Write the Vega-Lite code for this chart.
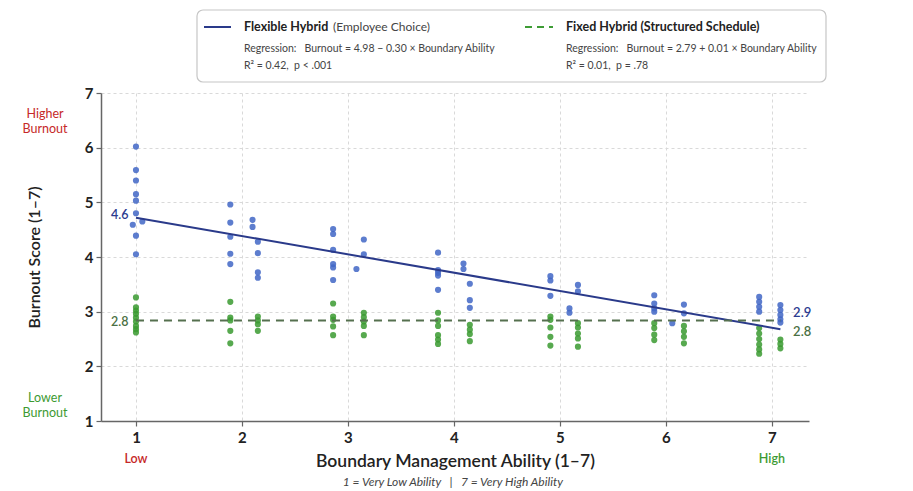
{
  "$schema": "https://vega.github.io/schema/vega-lite/v6.json",
  "background": "white",
  "padding": {"left": 22, "top": 9, "right": 5, "bottom": 3},
  "config": {
    "view": {"stroke": null},
    "font": "Lato",
    "axis": {
      "labelFont": "Lato", "titleFont": "Lato",
      "labelFontSize": 15, "labelFontWeight": 700, "labelColor": "#222222",
      "domainColor": "#666666", "domainWidth": 1.5,
      "tickColor": "#666666", "tickSize": 5, "tickWidth": 1.2,
      "gridColor": "#d9d9d9", "gridDash": [3, 3], "gridWidth": 1,
      "titleColor": "#222222", "titleFontWeight": 600
    }
  },
  "spacing": 11,
  "bounds": "flush",
  "vconcat": [
    {
      "width": 726,
      "height": 72,
      "data": {"values": [{"panel": "legend"}]},
      "layer": [
        {
          "mark": {"type": "rect", "fill": "white", "stroke": "#c6c6c6", "strokeWidth": 1.2, "cornerRadius": 6},
          "encoding": {
            "x": {"datum": 96, "type": "quantitative", "scale": {"domain": [0, 726], "nice": false, "zero": false}, "axis": null},
            "x2": {"datum": 725},
            "y": {"datum": 0, "type": "quantitative", "scale": {"domain": [0, 72], "nice": false, "reverse": true}, "axis": null},
            "y2": {"datum": 72}
          }
        },
        {
          "mark": {"type": "rule", "stroke": "#2a3a8a", "strokeWidth": 2},
          "encoding": {"x": {"datum": 103, "type": "quantitative"}, "x2": {"datum": 130}, "y": {"datum": 17, "type": "quantitative"}}
        },
        {
          "mark": {"type": "rule", "stroke": "#3e9c35", "strokeWidth": 2, "strokeDash": [7, 5]},
          "encoding": {"x": {"datum": 424, "type": "quantitative"}, "x2": {"datum": 452}, "y": {"datum": 17, "type": "quantitative"}}
        },
        {
          "mark": {"type": "text", "align": "left", "baseline": "middle", "fontSize": 12.5, "fontWeight": 700, "color": "#222222"},
          "encoding": {"x": {"datum": 143, "type": "quantitative"}, "y": {"datum": 17, "type": "quantitative"}, "text": {"value": "Flexible Hybrid"}}
        },
        {
          "mark": {"type": "text", "align": "left", "baseline": "middle", "fontSize": 12, "color": "#444444"},
          "encoding": {"x": {"datum": 232, "type": "quantitative"}, "y": {"datum": 17, "type": "quantitative"}, "text": {"value": "(Employee Choice)"}}
        },
        {
          "mark": {"type": "text", "align": "left", "baseline": "middle", "fontSize": 10.5, "color": "#444444"},
          "encoding": {"x": {"datum": 143, "type": "quantitative"}, "y": {"datum": 39, "type": "quantitative"}, "text": {"value": "Regression:\u00a0\u00a0 Burnout = 4.98 − 0.30 × Boundary Ability"}}
        },
        {
          "mark": {"type": "text", "align": "left", "baseline": "middle", "fontSize": 10.5, "color": "#444444"},
          "encoding": {"x": {"datum": 143, "type": "quantitative"}, "y": {"datum": 56, "type": "quantitative"}, "text": {"value": "R² = 0.42,\u00a0 p < .001"}}
        },
        {
          "mark": {"type": "text", "align": "left", "baseline": "middle", "fontSize": 12.5, "fontWeight": 700, "color": "#222222"},
          "encoding": {"x": {"datum": 465, "type": "quantitative"}, "y": {"datum": 17, "type": "quantitative"}, "text": {"value": "Fixed Hybrid (Structured Schedule)"}}
        },
        {
          "mark": {"type": "text", "align": "left", "baseline": "middle", "fontSize": 10.5, "color": "#444444"},
          "encoding": {"x": {"datum": 465, "type": "quantitative"}, "y": {"datum": 39, "type": "quantitative"}, "text": {"value": "Regression:\u00a0\u00a0 Burnout = 2.79 + 0.01 × Boundary Ability"}}
        },
        {
          "mark": {"type": "text", "align": "left", "baseline": "middle", "fontSize": 10.5, "color": "#444444"},
          "encoding": {"x": {"datum": 465, "type": "quantitative"}, "y": {"datum": 56, "type": "quantitative"}, "text": {"value": "R² = 0.01,\u00a0 p = .78"}}
        }
      ]
    },
    {
      "width": 708,
      "height": 328,
      "layer": [
        {
          "data": {"values": [
            {"group": "Flexible Hybrid", "ability": 1.00, "burnout": 6.02},
            {"group": "Flexible Hybrid", "ability": 1.00, "burnout": 5.59},
            {"group": "Flexible Hybrid", "ability": 1.00, "burnout": 5.40},
            {"group": "Flexible Hybrid", "ability": 1.00, "burnout": 5.15},
            {"group": "Flexible Hybrid", "ability": 1.00, "burnout": 5.03},
            {"group": "Flexible Hybrid", "ability": 1.00, "burnout": 4.80},
            {"group": "Flexible Hybrid", "ability": 1.06, "burnout": 4.65},
            {"group": "Flexible Hybrid", "ability": 0.97, "burnout": 4.59},
            {"group": "Flexible Hybrid", "ability": 1.00, "burnout": 4.39},
            {"group": "Flexible Hybrid", "ability": 1.00, "burnout": 4.05},
            {"group": "Flexible Hybrid", "ability": 1.89, "burnout": 4.96},
            {"group": "Flexible Hybrid", "ability": 1.89, "burnout": 4.63},
            {"group": "Flexible Hybrid", "ability": 1.89, "burnout": 4.37},
            {"group": "Flexible Hybrid", "ability": 1.89, "burnout": 4.06},
            {"group": "Flexible Hybrid", "ability": 1.89, "burnout": 3.87},
            {"group": "Flexible Hybrid", "ability": 2.10, "burnout": 4.68},
            {"group": "Flexible Hybrid", "ability": 2.10, "burnout": 4.55},
            {"group": "Flexible Hybrid", "ability": 2.15, "burnout": 4.28},
            {"group": "Flexible Hybrid", "ability": 2.15, "burnout": 4.07},
            {"group": "Flexible Hybrid", "ability": 2.15, "burnout": 3.72},
            {"group": "Flexible Hybrid", "ability": 2.15, "burnout": 3.62},
            {"group": "Flexible Hybrid", "ability": 2.86, "burnout": 4.51},
            {"group": "Flexible Hybrid", "ability": 2.86, "burnout": 4.42},
            {"group": "Flexible Hybrid", "ability": 2.86, "burnout": 4.13},
            {"group": "Flexible Hybrid", "ability": 2.86, "burnout": 3.87},
            {"group": "Flexible Hybrid", "ability": 2.86, "burnout": 3.81},
            {"group": "Flexible Hybrid", "ability": 2.86, "burnout": 3.58},
            {"group": "Flexible Hybrid", "ability": 3.15, "burnout": 4.32},
            {"group": "Flexible Hybrid", "ability": 3.15, "burnout": 4.05},
            {"group": "Flexible Hybrid", "ability": 3.08, "burnout": 3.78},
            {"group": "Flexible Hybrid", "ability": 3.85, "burnout": 4.08},
            {"group": "Flexible Hybrid", "ability": 3.85, "burnout": 3.76},
            {"group": "Flexible Hybrid", "ability": 3.85, "burnout": 3.71},
            {"group": "Flexible Hybrid", "ability": 3.85, "burnout": 3.66},
            {"group": "Flexible Hybrid", "ability": 3.85, "burnout": 3.40},
            {"group": "Flexible Hybrid", "ability": 4.09, "burnout": 3.88},
            {"group": "Flexible Hybrid", "ability": 4.09, "burnout": 3.78},
            {"group": "Flexible Hybrid", "ability": 4.15, "burnout": 3.51},
            {"group": "Flexible Hybrid", "ability": 4.15, "burnout": 3.21},
            {"group": "Flexible Hybrid", "ability": 4.15, "burnout": 3.07},
            {"group": "Flexible Hybrid", "ability": 4.91, "burnout": 3.65},
            {"group": "Flexible Hybrid", "ability": 4.91, "burnout": 3.57},
            {"group": "Flexible Hybrid", "ability": 4.91, "burnout": 3.29},
            {"group": "Flexible Hybrid", "ability": 5.17, "burnout": 3.49},
            {"group": "Flexible Hybrid", "ability": 5.17, "burnout": 3.37},
            {"group": "Flexible Hybrid", "ability": 5.09, "burnout": 3.06},
            {"group": "Flexible Hybrid", "ability": 5.09, "burnout": 2.98},
            {"group": "Flexible Hybrid", "ability": 5.89, "burnout": 3.30},
            {"group": "Flexible Hybrid", "ability": 5.89, "burnout": 3.15},
            {"group": "Flexible Hybrid", "ability": 5.89, "burnout": 3.06},
            {"group": "Flexible Hybrid", "ability": 5.89, "burnout": 3.00},
            {"group": "Flexible Hybrid", "ability": 6.06, "burnout": 2.79},
            {"group": "Flexible Hybrid", "ability": 6.17, "burnout": 3.13},
            {"group": "Flexible Hybrid", "ability": 6.17, "burnout": 2.97},
            {"group": "Flexible Hybrid", "ability": 6.88, "burnout": 3.27},
            {"group": "Flexible Hybrid", "ability": 6.88, "burnout": 3.18},
            {"group": "Flexible Hybrid", "ability": 6.88, "burnout": 3.09},
            {"group": "Flexible Hybrid", "ability": 6.88, "burnout": 3.00},
            {"group": "Flexible Hybrid", "ability": 7.08, "burnout": 3.12},
            {"group": "Flexible Hybrid", "ability": 7.08, "burnout": 3.03},
            {"group": "Flexible Hybrid", "ability": 7.08, "burnout": 2.94},
            {"group": "Flexible Hybrid", "ability": 7.08, "burnout": 2.86},
            {"group": "Flexible Hybrid", "ability": 7.08, "burnout": 2.80},
            {"group": "Fixed Hybrid", "ability": 1.00, "burnout": 3.26},
            {"group": "Fixed Hybrid", "ability": 1.00, "burnout": 3.08},
            {"group": "Fixed Hybrid", "ability": 1.00, "burnout": 3.02},
            {"group": "Fixed Hybrid", "ability": 1.00, "burnout": 2.96},
            {"group": "Fixed Hybrid", "ability": 1.00, "burnout": 2.89},
            {"group": "Fixed Hybrid", "ability": 1.00, "burnout": 2.82},
            {"group": "Fixed Hybrid", "ability": 1.00, "burnout": 2.74},
            {"group": "Fixed Hybrid", "ability": 1.00, "burnout": 2.68},
            {"group": "Fixed Hybrid", "ability": 1.00, "burnout": 2.62},
            {"group": "Fixed Hybrid", "ability": 1.89, "burnout": 3.18},
            {"group": "Fixed Hybrid", "ability": 1.89, "burnout": 2.89},
            {"group": "Fixed Hybrid", "ability": 1.89, "burnout": 2.84},
            {"group": "Fixed Hybrid", "ability": 1.89, "burnout": 2.65},
            {"group": "Fixed Hybrid", "ability": 1.89, "burnout": 2.42},
            {"group": "Fixed Hybrid", "ability": 2.15, "burnout": 2.91},
            {"group": "Fixed Hybrid", "ability": 2.15, "burnout": 2.84},
            {"group": "Fixed Hybrid", "ability": 2.15, "burnout": 2.77},
            {"group": "Fixed Hybrid", "ability": 2.15, "burnout": 2.65},
            {"group": "Fixed Hybrid", "ability": 2.86, "burnout": 3.15},
            {"group": "Fixed Hybrid", "ability": 2.86, "burnout": 2.91},
            {"group": "Fixed Hybrid", "ability": 2.86, "burnout": 2.85},
            {"group": "Fixed Hybrid", "ability": 2.86, "burnout": 2.73},
            {"group": "Fixed Hybrid", "ability": 2.86, "burnout": 2.57},
            {"group": "Fixed Hybrid", "ability": 3.15, "burnout": 2.98},
            {"group": "Fixed Hybrid", "ability": 3.15, "burnout": 2.90},
            {"group": "Fixed Hybrid", "ability": 3.15, "burnout": 2.82},
            {"group": "Fixed Hybrid", "ability": 3.15, "burnout": 2.74},
            {"group": "Fixed Hybrid", "ability": 3.15, "burnout": 2.57},
            {"group": "Fixed Hybrid", "ability": 3.85, "burnout": 2.98},
            {"group": "Fixed Hybrid", "ability": 3.85, "burnout": 2.84},
            {"group": "Fixed Hybrid", "ability": 3.85, "burnout": 2.74},
            {"group": "Fixed Hybrid", "ability": 3.85, "burnout": 2.57},
            {"group": "Fixed Hybrid", "ability": 3.85, "burnout": 2.49},
            {"group": "Fixed Hybrid", "ability": 3.85, "burnout": 2.41},
            {"group": "Fixed Hybrid", "ability": 4.15, "burnout": 2.76},
            {"group": "Fixed Hybrid", "ability": 4.15, "burnout": 2.67},
            {"group": "Fixed Hybrid", "ability": 4.15, "burnout": 2.59},
            {"group": "Fixed Hybrid", "ability": 4.15, "burnout": 2.46},
            {"group": "Fixed Hybrid", "ability": 4.91, "burnout": 2.91},
            {"group": "Fixed Hybrid", "ability": 4.91, "burnout": 2.85},
            {"group": "Fixed Hybrid", "ability": 4.91, "burnout": 2.71},
            {"group": "Fixed Hybrid", "ability": 4.91, "burnout": 2.54},
            {"group": "Fixed Hybrid", "ability": 4.91, "burnout": 2.38},
            {"group": "Fixed Hybrid", "ability": 5.17, "burnout": 2.79},
            {"group": "Fixed Hybrid", "ability": 5.17, "burnout": 2.71},
            {"group": "Fixed Hybrid", "ability": 5.17, "burnout": 2.60},
            {"group": "Fixed Hybrid", "ability": 5.17, "burnout": 2.51},
            {"group": "Fixed Hybrid", "ability": 5.17, "burnout": 2.36},
            {"group": "Fixed Hybrid", "ability": 5.89, "burnout": 2.79},
            {"group": "Fixed Hybrid", "ability": 5.89, "burnout": 2.70},
            {"group": "Fixed Hybrid", "ability": 5.89, "burnout": 2.58},
            {"group": "Fixed Hybrid", "ability": 5.89, "burnout": 2.48},
            {"group": "Fixed Hybrid", "ability": 6.17, "burnout": 2.74},
            {"group": "Fixed Hybrid", "ability": 6.17, "burnout": 2.64},
            {"group": "Fixed Hybrid", "ability": 6.17, "burnout": 2.54},
            {"group": "Fixed Hybrid", "ability": 6.17, "burnout": 2.42},
            {"group": "Fixed Hybrid", "ability": 6.88, "burnout": 2.70},
            {"group": "Fixed Hybrid", "ability": 6.88, "burnout": 2.60},
            {"group": "Fixed Hybrid", "ability": 6.88, "burnout": 2.50},
            {"group": "Fixed Hybrid", "ability": 6.88, "burnout": 2.40},
            {"group": "Fixed Hybrid", "ability": 6.88, "burnout": 2.31},
            {"group": "Fixed Hybrid", "ability": 6.88, "burnout": 2.23},
            {"group": "Fixed Hybrid", "ability": 7.08, "burnout": 2.49},
            {"group": "Fixed Hybrid", "ability": 7.08, "burnout": 2.41},
            {"group": "Fixed Hybrid", "ability": 7.08, "burnout": 2.33}
          ]},
          "mark": {"type": "circle", "size": 38, "opacity": 0.85},
          "encoding": {
            "x": {
              "field": "ability", "type": "quantitative",
              "scale": {"domain": [0.67, 7.35], "nice": false, "zero": false},
              "axis": {"values": [1, 2, 3, 4, 5, 6, 7], "format": "d", "labelPadding": 4, "title": "Boundary Management Ability (1–7)", "titleFontSize": 17.5, "titlePadding": 7}
            },
            "y": {
              "field": "burnout", "type": "quantitative",
              "scale": {"domain": [1, 7], "nice": false, "zero": false},
              "axis": {"values": [1, 2, 3, 4, 5, 6, 7], "format": "d", "labelPadding": 3, "title": "Burnout Score (1–7)", "titleFontSize": 16, "titlePadding": 42}
            },
            "color": {
              "field": "group", "type": "nominal",
              "scale": {"domain": ["Flexible Hybrid", "Fixed Hybrid"], "range": ["#4166c6", "#3a9a30"]},
              "legend": null
            }
          }
        },
        {
          "data": {"values": [
            {"group": "Flexible Hybrid", "ability": 1.0, "burnout": 4.72},
            {"group": "Flexible Hybrid", "ability": 7.08, "burnout": 2.68}
          ]},
          "mark": {"type": "line", "stroke": "#2a3a8a", "strokeWidth": 2},
          "encoding": {
            "x": {"field": "ability", "type": "quantitative"},
            "y": {"field": "burnout", "type": "quantitative"}
          }
        },
        {
          "data": {"values": [
            {"group": "Fixed Hybrid", "ability": 1.0, "burnout": 2.84},
            {"group": "Fixed Hybrid", "ability": 7.08, "burnout": 2.84}
          ]},
          "mark": {"type": "line", "stroke": "#55704f", "strokeWidth": 2, "strokeDash": [8, 6]},
          "encoding": {
            "x": {"field": "ability", "type": "quantitative"},
            "y": {"field": "burnout", "type": "quantitative"}
          }
        },
        {
          "data": {"values": [
            {"group": "Flexible Hybrid", "ability": 0.93, "burnout": 4.76, "label": "4.6"},
            {"group": "Fixed Hybrid", "ability": 0.93, "burnout": 2.81, "label": "2.8"}
          ]},
          "mark": {"type": "text", "align": "right", "baseline": "middle", "fontSize": 12.5, "fontWeight": 600, "clip": false},
          "encoding": {
            "x": {"field": "ability", "type": "quantitative"},
            "y": {"field": "burnout", "type": "quantitative"},
            "text": {"field": "label"},
            "color": {"condition": {"test": "datum.group === 'Flexible Hybrid'", "value": "#2c3b8f"}, "value": "#4a7043"}
          }
        },
        {
          "data": {"values": [
            {"group": "Flexible Hybrid", "ability": 7.20, "burnout": 2.98, "label": "2.9"},
            {"group": "Fixed Hybrid", "ability": 7.20, "burnout": 2.62, "label": "2.8"}
          ]},
          "mark": {"type": "text", "align": "left", "baseline": "middle", "fontSize": 13, "fontWeight": 600, "clip": false},
          "encoding": {
            "x": {"field": "ability", "type": "quantitative"},
            "y": {"field": "burnout", "type": "quantitative"},
            "text": {"field": "label"},
            "color": {"condition": {"test": "datum.group === 'Flexible Hybrid'", "value": "#2c3b8f"}, "value": "#4a7043"}
          }
        },
        {
          "data": {"values": [
            {"kind": "high", "ability": 0.142, "burnout": 6.61, "label": "Higher\nBurnout"},
            {"kind": "low", "ability": 0.142, "burnout": 1.42, "label": "Lower\nBurnout"}
          ]},
          "mark": {"type": "text", "align": "center", "baseline": "middle", "fontSize": 12.5, "lineBreak": "\n", "lineHeight": 15, "clip": false},
          "encoding": {
            "x": {"field": "ability", "type": "quantitative"},
            "y": {"field": "burnout", "type": "quantitative"},
            "text": {"field": "label"},
            "color": {"condition": {"test": "datum.kind === 'high'", "value": "#c62828"}, "value": "#3d9a32"}
          }
        },
        {
          "data": {"values": [
            {"kind": "low", "ability": 1, "burnout": 0.30, "label": "Low"},
            {"kind": "high", "ability": 7, "burnout": 0.30, "label": "High"}
          ]},
          "mark": {"type": "text", "align": "center", "baseline": "middle", "fontSize": 12.5, "fontWeight": 600, "clip": false},
          "encoding": {
            "x": {"field": "ability", "type": "quantitative"},
            "y": {"field": "burnout", "type": "quantitative"},
            "text": {"field": "label"},
            "color": {"condition": {"test": "datum.kind === 'low'", "value": "#c62828"}, "value": "#3d9a32"}
          }
        },
        {
          "data": {"values": [
            {"ability": 3.99, "burnout": -0.115, "label": "1 = Very Low Ability\u00a0\u00a0\u00a0|\u00a0\u00a0\u00a07 = Very High Ability"}
          ]},
          "mark": {"type": "text", "align": "center", "baseline": "middle", "fontSize": 12, "fontStyle": "italic", "color": "#444444", "clip": false},
          "encoding": {
            "x": {"field": "ability", "type": "quantitative"},
            "y": {"field": "burnout", "type": "quantitative"},
            "text": {"field": "label"}
          }
        }
      ]
    }
  ]
}
